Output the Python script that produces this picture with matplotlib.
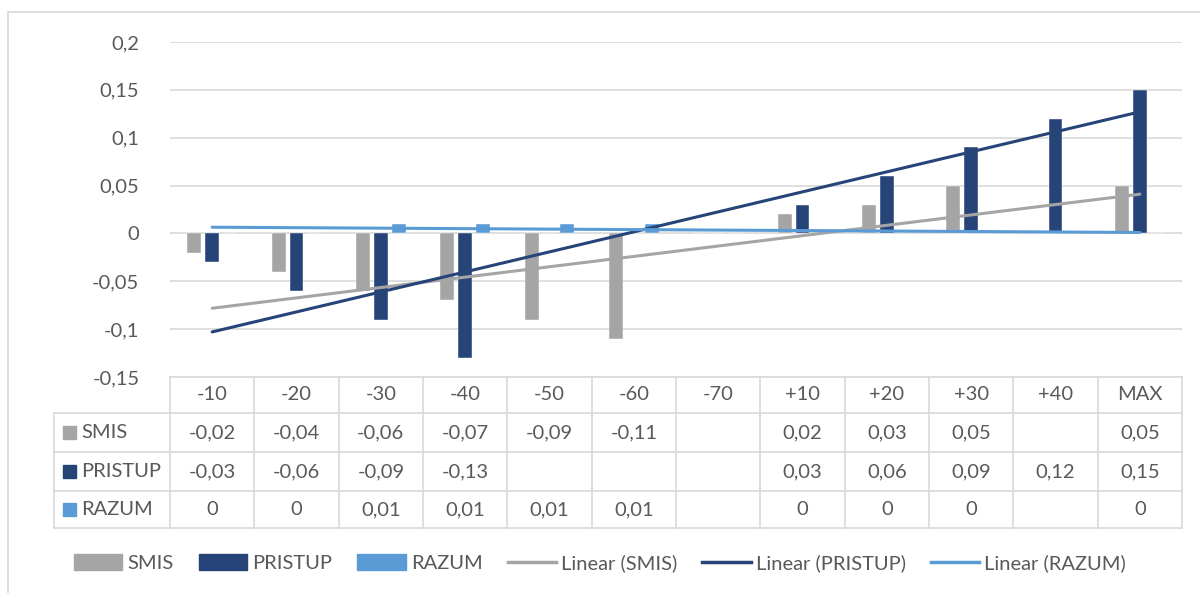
import numpy as np
import matplotlib
matplotlib.use("Agg")
import matplotlib.pyplot as plt
from matplotlib.patches import Patch, Rectangle
from matplotlib.lines import Line2D

plt.rcParams['font.family'] = ['Lato', 'DejaVu Sans']
plt.rcParams['axes.unicode_minus'] = False

categories = ["-10", "-20", "-30", "-40", "-50", "-60", "-70", "+10", "+20", "+30", "+40", "MAX"]
smis = [-0.02, -0.04, -0.06, -0.07, -0.09, -0.11, np.nan, 0.02, 0.03, 0.05, np.nan, 0.05]
pristup = [-0.03, -0.06, -0.09, -0.13, np.nan, np.nan, np.nan, 0.03, 0.06, 0.09, 0.12, 0.15]
razum = [0, 0, 0.01, 0.01, 0.01, 0.01, np.nan, 0, 0, 0, np.nan, 0]
series_names = ["SMIS", "PRISTUP", "RAZUM"]
yticks = [-0.15, -0.1, -0.05, 0, 0.05, 0.1, 0.15, 0.2]

colors = ["#A5A5A5", "#264478", "#5B9BD5"]
text_color = "#595959"
grid_color = "#D9D9D9"

W, H = 1200, 593
fig = plt.figure(figsize=(W / 100, H / 100), dpi=100)

# pixel geometry
ax_l, ax_r, ax_t, ax_b = 170, 1182, 42, 377
ax = fig.add_axes([ax_l / W, 1 - ax_b / H, (ax_r - ax_l) / W, (ax_b - ax_t) / H])

# chart border (bottom/right lie outside the image)
fig.patches.append(Rectangle((8 / W, -0.1), 1.2, 1.1 - 12 / H, transform=fig.transFigure,
                             fill=False, edgecolor=grid_color, linewidth=1.2))

n = len(categories)
x = np.arange(n)
series = [smis, pristup, razum]
offsets = [-0.21, 0.0, 0.21]
bw = 0.165
for vals, off, c in zip(series, offsets, colors):
    v = np.array(vals, dtype=float)
    ax.bar(x + off, np.nan_to_num(v), width=bw, color=c, zorder=2, edgecolor='white', linewidth=0.3)

# linear trend lines
for vals, c in zip(series, colors):
    v = np.array(vals, dtype=float)
    m = ~np.isnan(v)
    k, b = np.polyfit(x[m] + 1, v[m], 1)
    xs = np.array([0, n - 1])
    ax.plot(xs, k * (xs + 1) + b, color=c, linewidth=2.2, zorder=3, solid_capstyle='round')

ax.set_xlim(-0.5, n - 0.5)
ax.set_ylim(-0.15, 0.2)
ax.set_yticks(yticks)

def fmt(v):
    if v == 0:
        return "0"
    return f"{v:g}".replace('.', ',')

fs = 14.5
ax.set_yticklabels([fmt(t) for t in yticks])
ax.tick_params(axis='y', length=0, pad=22, labelsize=fs, labelcolor=text_color)
ax.set_xticks([])
for s in ax.spines.values():
    s.set_visible(False)
ax.grid(axis='y', color=grid_color, linewidth=1.2, zorder=0)
ax.set_axisbelow(True)

# data table
row_px = [377, 413, 452, 491, 528]
def fy(p):
    return (ax_b - p) / (ax_b - ax_t)
left_ax = (54 - ax_l) / (ax_r - ax_l)
lkw = dict(color=grid_color, linewidth=1.2, clip_on=False)
tx = ax.get_xaxis_transform()
ax.plot([0, 1], [fy(row_px[0])] * 2, transform=ax.transAxes, **lkw)
for p in row_px[1:]:
    ax.plot([left_ax, 1], [fy(p)] * 2, transform=ax.transAxes, **lkw)
for i in range(n + 1):
    ax.plot([i - 0.5, i - 0.5], [fy(row_px[0]), fy(row_px[-1])], transform=tx, **lkw)
ax.plot([left_ax, left_ax], [fy(row_px[1]), fy(row_px[-1])], transform=ax.transAxes, **lkw)

for i, cat in enumerate(categories):
    ax.text(i, fy((row_px[0] + row_px[1]) / 2), cat, transform=tx, ha='center', va='center',
            fontsize=fs, color=text_color)
for r, (name, vals, c) in enumerate(zip(series_names, series, colors)):
    yc = fy((row_px[r + 1] + row_px[r + 2]) / 2)
    for i, v in enumerate(vals):
        if not np.isnan(v):
            ax.text(i, yc, fmt(v), transform=tx, ha='center', va='center', fontsize=fs, color=text_color)
    kx = (63 - ax_l) / (ax_r - ax_l)
    kw = 13 / (ax_r - ax_l)
    kh = 13 / (ax_b - ax_t)
    ax.add_patch(Rectangle((kx, yc - kh / 2), kw, kh, transform=ax.transAxes, color=c, clip_on=False))
    ax.text((81 - ax_l) / (ax_r - ax_l), yc, name, transform=ax.transAxes, ha='left', va='center',
            fontsize=fs, color=text_color)

# legend
handles = [Patch(color=c) for c in colors] + [Line2D([], [], color=c, linewidth=2.5) for c in colors]
labels = series_names + [f"Linear ({s})" for s in series_names]
fig.legend(handles, labels, loc='center', bbox_to_anchor=(0.5, 1 - 563 / H), ncol=6, frameon=False,
           fontsize=fs, labelcolor=text_color, handlelength=2.4, handleheight=0.85,
           columnspacing=1.25, handletextpad=0.25)

fig.savefig("out.png", dpi=100)
